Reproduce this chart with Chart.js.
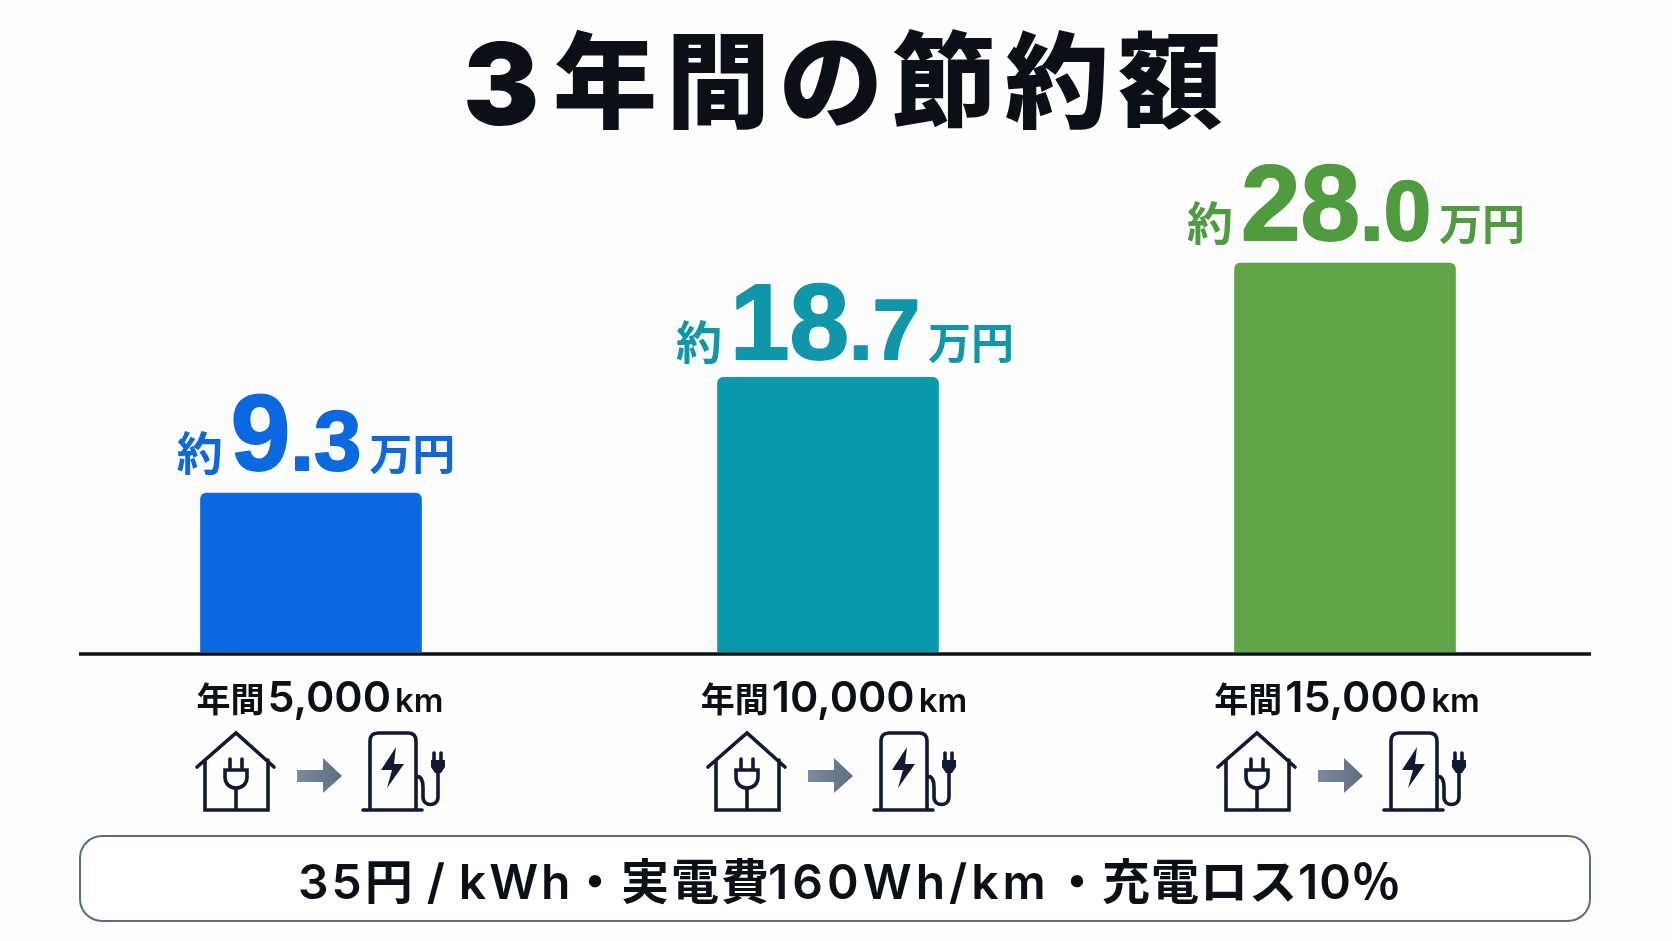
<!DOCTYPE html>
<html lang="ja">
<head>
<meta charset="utf-8">
<title>3年間の節約額</title>
<script src="https://cdn.jsdelivr.net/npm/chart.js@4/dist/chart.umd.min.js"></script>
<style>
  html, body { margin: 0; background: #fefefe; }
  canvas { display: block; }
</style>
</head>
<body>
<canvas id="savingsChart" width="1672" height="941"></canvas>
<script>
// Savings over three years, by annual distance
const distances = ['5,000', '10,000', '15,000'];
const savings = [9.3, 18.7, 28.0];
const barColors = ['#0a68e1', '#0a99ac', '#62a548'];
const textColors = ['#0a68e1', '#0f97a9', '#4f9c3f'];
const titleDigit = '3';
const titleText = '年間の節約額';
const conditionParts = ['35円\u2009/\u2009kWh', '・実電費', '160Wh/km', '・充電ロス10％'];

const DARK = '#0b0f16';
const NAVY = '#121a33';
const FONT = '"Inter", "Noto Sans CJK JP", sans-serif';
const JP_FONT = '"Noto Sans CJK JP", sans-serif';
const NUM_FONT = '"Liberation Sans", sans-serif';

// value axis starts below zero, the bars stand on it
const AXIS_FLOOR = -3.63;

// per column nudges so labels and icons sit a little off the bar centres
const valueShift = [5, 17, 11];
const valueLift = [23, 18, 23];
const distanceShift = [9, 6, 2];
const iconShift = [-114, -120, -127];

// left edge and tracking of each part of the conditions line
const partX = [298, 571, 768, 1053];
const partTrack = [3, 2, 4, 1];

// draw mixed size text on one baseline, centred on cx
function drawRuns(ctx, runs, cx, baseline, color) {
    let total = 0;
    runs.forEach(r => {
        ctx.font = r.font;
        total += ctx.measureText(r.text).width + (r.gap || 0);
    });
    let x = cx - total / 2;
    ctx.fillStyle = color;
    ctx.strokeStyle = color;
    ctx.textAlign = 'left';
    ctx.textBaseline = 'alphabetic';
    runs.forEach(r => {
        ctx.font = r.font;
        ctx.fillText(r.text, x, baseline);
        if (r.heavy) {
            ctx.lineWidth = r.heavy;
            ctx.lineJoin = 'round';
            ctx.strokeText(r.text, x, baseline);
        }
        x += ctx.measureText(r.text).width + (r.gap || 0);
    });
}

const housePath = new Path2D('M0 34 L39 0 L77 34 M8 27 L8 77 L71 77 L71 27 M39 77 L39 55 M28 37 L50 37 L50 44 C50 51 45 55 39 55 C33 55 28 51 28 44 Z M33 37 L33 26 M45 37 L45 26');
const chargerPath = new Path2D('M173 76 L173 8 Q173 0 181 0 L211 0 Q219 0 219 8 L219 76 M166 77 L225 77 M219 44 C224 42 226 48 226 54 L226 64 C226 74 241 74 241 64 L241 38 M237 28 L237 20 M244 28 L244 20');
const boltPath = new Path2D('M199 14 L184 37 L195 37 L190 55 L207 31 L197 31 Z');
const plugPath = new Path2D('M234 27 L248 27 L248 34 L244 40 L238 40 L234 34 Z');
const arrowPath = new Path2D('M100 37 L126 37 L126 25 L145 43 L126 60 L126 49 L100 49 Z');

function drawIcons(ctx, x, y) {
    ctx.save();
    ctx.translate(x, y);
    ctx.lineWidth = 3.6;
    ctx.strokeStyle = NAVY;
    ctx.lineCap = 'round';
    ctx.lineJoin = 'miter';
    ctx.stroke(housePath);
    ctx.stroke(chargerPath);
    ctx.fillStyle = NAVY;
    ctx.fill(boltPath);
    ctx.fill(plugPath);
    const grad = ctx.createLinearGradient(100, 0, 145, 0);
    grad.addColorStop(0, '#7d8a9c');
    grad.addColorStop(1, '#5f6d82');
    ctx.fillStyle = grad;
    ctx.fill(arrowPath);
    ctx.restore();
}

const decorations = {
    id: 'decorations',
    beforeDraw(chart) {
        const ctx = chart.ctx;
        ctx.save();
        ctx.fillStyle = '#fefefe';
        ctx.fillRect(0, 0, chart.width, chart.height);

        // heading, the digit is set larger than the kanji
        ctx.fillStyle = DARK;
        ctx.strokeStyle = DARK;
        ctx.textAlign = 'left';
        ctx.textBaseline = 'alphabetic';
        ctx.font = '900 114px ' + FONT;
        ctx.fillText(titleDigit, 463, 125);
        ctx.font = '900 104px ' + JP_FONT;
        ctx.letterSpacing = '9px';
        ctx.fillText(titleText, 553, 120);
        ctx.letterSpacing = '0px';
        ctx.restore();
    },
    afterDraw(chart) {
        const ctx = chart.ctx;
        const xScale = chart.scales.x;
        const bars = chart.getDatasetMeta(0).data;
        ctx.save();

        // baseline under the bars
        ctx.strokeStyle = '#0b0f16';
        ctx.lineWidth = 3.6;
        ctx.beginPath();
        ctx.moveTo(79, 654);
        ctx.lineTo(1591, 654);
        ctx.stroke();

        savings.forEach((value, i) => {
            const [whole, decimal] = value.toFixed(1).split('.');
            const cx = xScale.getPixelForTick(i);

            // value above the bar, decimals a size down
            drawRuns(ctx, [
                { text: '約', font: '700 46px ' + JP_FONT, gap: 8 },
                { text: whole, font: '700 107px ' + NUM_FONT, heavy: 2 },
                { text: '.' + decimal, font: '700 85px ' + NUM_FONT, heavy: 2, gap: 8 },
                { text: '万円', font: '700 43px ' + JP_FONT }
            ], cx + valueShift[i], bars[i].y - valueLift[i], textColors[i]);

            // distance label
            drawRuns(ctx, [
                { text: '年間', font: '700 34px ' + JP_FONT, gap: 3 },
                { text: distances[i], font: '600 43px ' + FONT, gap: 4 },
                { text: 'km', font: '600 33px ' + FONT }
            ], cx + distanceShift[i], 712, DARK);

            drawIcons(ctx, cx + iconShift[i], 733);
        });

        // conditions box
        ctx.strokeStyle = '#5a6b85';
        ctx.lineWidth = 2;
        ctx.fillStyle = '#ffffff';
        ctx.beginPath();
        ctx.roundRect(80, 836, 1510, 85, 22);
        ctx.fill();
        ctx.stroke();

        ctx.fillStyle = DARK;
        ctx.font = '600 48px ' + FONT;
        ctx.textAlign = 'left';
        ctx.textBaseline = 'alphabetic';
        conditionParts.forEach((part, i) => {
            ctx.letterSpacing = partTrack[i] + 'px';
            ctx.fillText(part, partX[i], 899);
        });
        ctx.letterSpacing = '0px';
        ctx.restore();
    }
};

new Chart(document.getElementById('savingsChart'), {
    type: 'bar',
    data: {
        labels: distances,
        datasets: [{
            data: savings,
            backgroundColor: barColors,
            base: AXIS_FLOOR,
            barThickness: 221,
            borderRadius: { topLeft: 6, topRight: 6, bottomLeft: 0, bottomRight: 0 },
            borderSkipped: false
        }]
    },
    options: {
        responsive: false,
        animation: false,
        layout: { padding: { left: 52.5, right: 68.5, top: 0, bottom: 289 } },
        plugins: { legend: { display: false }, tooltip: { enabled: false } },
        scales: {
            x: { display: false },
            y: { display: false, min: AXIS_FLOOR, max: 49.38 }
        }
    },
    plugins: [decorations]
});
</script>
</body>
</html>
